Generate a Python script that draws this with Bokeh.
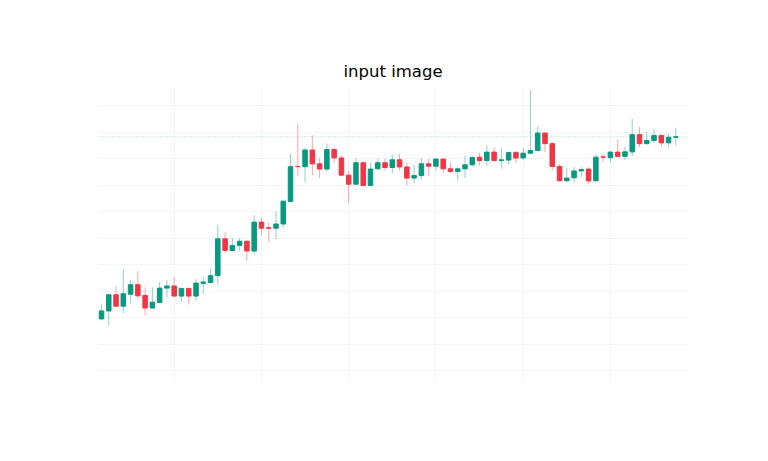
from bokeh.plotting import figure
from bokeh.models import Grid, FixedTicker, Span, ColumnDataSource, Range1d
from bokeh.embed import file_html
from bokeh.resources import INLINE

# ---- data ----
opens = [119.6, 122.6, 128.7, 124.4, 128.9, 132.5, 128.4, 123.7, 125.8, 131.2,
         132.0, 128.2, 131.1, 128.2, 133.0, 133.3, 135.9, 149.8, 145.4, 147.3,
         148.9, 145.2, 156.1, 154.0, 153.8, 155.4, 163.9, 177.1, 177.0, 183.3,
         178.1, 176.1, 183.5, 180.3, 173.8, 170.4, 178.5, 169.9, 176.2, 178.5,
         176.7, 179.6, 176.9, 172.7, 173.7, 178.1, 177.2, 179.9, 176.2, 175.2,
         176.2, 177.7, 180.6, 179.3, 182.5, 179.3, 179.5, 182.4, 180.3, 182.1,
         183.1, 189.7, 185.7, 177.1, 171.7, 172.8, 175.4, 176.1, 171.7, 180.7,
         180.4, 182.5, 180.9, 182.6, 189.1, 185.7, 186.9, 188.8, 186.0, 188.1]
closes = [122.6, 128.7, 124.4, 129.1, 132.5, 128.3, 123.7, 125.9, 131.2, 132.0,
          128.2, 131.1, 128.2, 133.1, 133.5, 135.9, 149.8, 145.4, 147.3, 148.9,
          145.2, 156.1, 153.8, 153.8, 155.4, 164.0, 177.0, 177.0, 183.3, 178.1,
          176.1, 183.5, 180.3, 173.8, 170.4, 178.5, 169.9, 176.1, 178.5, 176.7,
          179.6, 176.9, 172.7, 173.7, 178.1, 177.2, 179.9, 176.2, 175.2, 176.2,
          177.7, 180.5, 179.3, 182.5, 179.3, 179.6, 182.4, 180.3, 182.1, 183.1,
          189.7, 185.7, 177.1, 171.7, 172.7, 175.4, 175.9, 171.6, 180.6, 180.6,
          182.5, 180.9, 182.6, 189.1, 185.7, 186.9, 188.8, 186.0, 188.1, 188.3]
highs = [125.0, 128.8, 132.0, 138.2, 134.1, 137.6, 131.5, 131.5, 133.5, 134.2,
         135.1, 131.2, 131.2, 134.7, 135.4, 138.7, 155.1, 152.3, 150.1, 150.1,
         149.1, 158.6, 157.7, 155.9, 160.1, 164.2, 181.9, 193.2, 184.4, 188.8,
         180.3, 185.7, 184.4, 181.3, 175.2, 180.0, 178.6, 178.5, 180.0, 180.0,
         181.5, 181.9, 178.5, 177.5, 180.3, 180.0, 180.0, 180.0, 178.5, 176.4,
         180.9, 180.9, 182.3, 185.0, 184.2, 184.0, 182.5, 182.8, 184.0, 205.8,
         192.2, 189.8, 186.3, 177.9, 176.6, 176.9, 176.9, 176.9, 181.6, 181.9,
         182.9, 187.2, 184.4, 195.0, 192.0, 190.1, 191.3, 188.9, 189.4, 191.7]
lows = [119.0, 117.1, 124.2, 121.8, 125.5, 127.2, 121.0, 123.5, 125.5, 127.7,
        128.0, 126.2, 125.0, 126.3, 129.1, 133.2, 132.5, 144.4, 145.2, 145.3,
        141.6, 143.8, 151.1, 148.6, 149.8, 154.0, 163.8, 173.3, 171.2, 173.7,
        172.7, 175.2, 178.4, 173.7, 163.4, 170.3, 169.8, 169.8, 176.1, 175.5,
        174.6, 175.5, 169.9, 170.8, 172.1, 173.5, 175.6, 174.7, 174.7, 171.7,
        172.7, 177.1, 177.5, 177.5, 179.1, 176.2, 177.9, 178.4, 179.4, 182.0,
        183.0, 182.5, 175.6, 171.5, 171.2, 171.2, 173.2, 170.4, 171.5, 178.7,
        178.7, 180.7, 179.5, 181.0, 184.4, 185.3, 186.0, 184.3, 184.3, 185.0]
index = list(range(len(opens)))
v_grid_ticks = [10, 22, 34, 46, 58, 70]
h_grid_ticks = [100, 110, 120, 130, 140, 150, 160, 170, 180, 190, 200]

GREEN = "#089981"
RED = "#F23645"

colors = [GREEN if c >= o else RED for o, c in zip(opens, closes)]
tops = [max(o, c) for o, c in zip(opens, closes)]
bottoms = [min(o, c) for o, c in zip(opens, closes)]

src = ColumnDataSource(dict(x=index, o=opens, c=closes, h=highs, l=lows,
                            top=tops, bottom=bottoms, color=colors))

p = figure(width=760, height=453, output_backend="svg", toolbar_location=None,
           x_axis_location=None, y_axis_location=None,
           x_range=Range1d(-0.55, 80.74), y_range=Range1d(95.6, 206.5),
           title="input image",
           min_border_left=97, min_border_right=72, min_border_top=88, min_border_bottom=71)
p.title.align = "center"
p.title.text_font = "DejaVu Sans"
p.title.text_font_size = "16.5px"
p.title.text_font_style = "normal"
p.title.text_color = "#000000"
p.title.standoff = 15
p.outline_line_color = None
p.background_fill_color = "white"
p.border_fill_color = "white"

# remove default grids, add our own
p.center = [r for r in p.center if not isinstance(r, Grid)]
p.add_layout(Grid(dimension=0, ticker=FixedTicker(ticks=v_grid_ticks),
                  grid_line_color="#f3f4f6", grid_line_width=1))
p.add_layout(Grid(dimension=1, ticker=FixedTicker(ticks=h_grid_ticks),
                  grid_line_color="#f3f4f6", grid_line_width=1))

p.segment(x0="x", y0="h", x1="x", y1="l", source=src, line_color="color",
          line_alpha=0.45, line_width=1)
p.vbar(x="x", top="top", bottom="bottom", width=0.62, source=src,
       fill_color="color", line_color="color", line_width=1)

p.add_layout(Span(location=closes[-1], dimension="width", line_color=GREEN,
                  line_alpha=0.4, line_width=1, line_dash="1 2"))

open("out.html", "w").write(file_html(p, INLINE))
